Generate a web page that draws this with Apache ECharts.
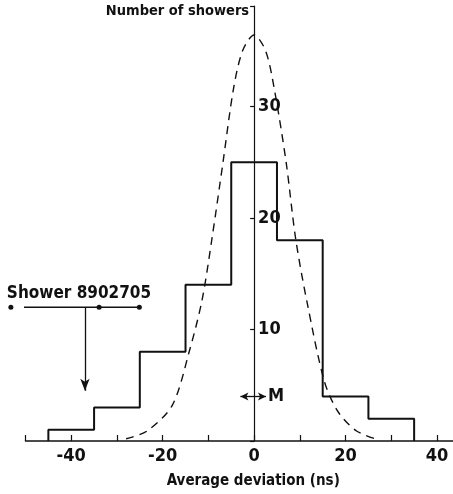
<!DOCTYPE html>
<html>
<head>
<meta charset="utf-8">
<script src="https://cdn.jsdelivr.net/npm/echarts@6/dist/echarts.min.js"></script>
<style>
  html, body { margin: 0; padding: 0; background: #fff; }
  #main { width: 453px; height: 494px; }
</style>
</head>
<body>
<div id="main"></div>
<script>
// histogram, 10 ns bins
var binEdges = [-45, -35, -25, -15, -5, 5, 15, 25, 35];
var binCounts = [1, 3, 8, 14, 25, 18, 4, 2];

// dashed curve
var curveX = [-28, -23.4, -17.9, -14.2, -11.4, -9.2, -6.8, -4.5, -2.5, 0, 2.5, 4.4, 7.0, 9.1, 11.6, 15.4, 18.4, 22.4, 27.2];
var curveY = [0.2, 0.9, 3.2, 8, 12.6, 18.2, 25, 31.6, 35.0, 36.4, 35.0, 31.6, 25, 18.1, 12.4, 5.3, 2.6, 0.9, 0.1];

var xLabels = [-40, -20, 0, 20, 40];
var yLabels = [10, 20, 30];

// shower 8902705 marker and the M arrow
var showerDots = [[-53.2, 12], [-33.9, 12], [-25.1, 12]];
var showerArrow = [[-37, 12], [-37, 4.5]];
var mArrow = [[-3, 4], [2.6, 4]];

var font = '"DejaVu Sans Condensed", sans-serif';

var gridLeft = 25.5, gridWidth = 453 - gridLeft;
var xMin = -50, xMax = 43.5;
// y axis sits at x = 0, shift it there from the grid's left edge
var yAxisShift = -(0 - xMin) / (xMax - xMin) * gridWidth;

var histPts = [[binEdges[0], 0]];
for (var i = 0; i < binCounts.length; i++) {
  histPts.push([binEdges[i], binCounts[i]]);
  histPts.push([binEdges[i + 1], binCounts[i]]);
}
histPts.push([binEdges[binEdges.length - 1], 0]);

var curvePts = curveX.map(function (x, i) { return [x, curveY[i]] });

var chart = echarts.init(document.getElementById('main'));
chart.setOption({
  animation: false,
  backgroundColor: '#fff',
  grid: { left: gridLeft, right: 0, top: 6, bottom: 47.5 },
  xAxis: {
    type: 'value',
    min: xMin,
    max: xMax,
    interval: 10,
    name: 'Average deviation (ns)',
    nameLocation: 'middle',
    nameGap: 33,
    nameTextStyle: { fontFamily: font, fontWeight: 'bold', fontSize: 15, color: '#111', padding: [0, 0, 0, 28] },
    splitLine: { show: false },
    axisLine: { onZero: false, lineStyle: { color: '#111', width: 1.5 } },
    axisTick: { inside: true, length: 6, lineStyle: { color: '#111', width: 1.2 } },
    axisLabel: {
      margin: 6,
      fontFamily: font, fontWeight: 'bold', fontSize: 18, color: '#111',
      showMinLabel: true, showMaxLabel: false,
      formatter: function (v) { return xLabels.indexOf(v) >= 0 ? String(v) : '' }
    }
  },
  yAxis: {
    type: 'value',
    min: 0,
    max: 39,
    interval: 10,
    offset: yAxisShift,
    name: 'Number of showers',
    nameLocation: 'end',
    nameGap: -5,
    nameTextStyle: { fontFamily: font, fontWeight: 'bold', fontSize: 14.5, color: '#111', align: 'right', verticalAlign: 'middle', padding: [0, 5, 0, 0] },
    splitLine: { show: false },
    axisLine: { onZero: false, lineStyle: { color: '#111', width: 1.2 } },
    axisTick: { length: 4, lineStyle: { color: '#111', width: 1.2 } },
    axisLabel: {
      inside: true,
      margin: 4,
      fontFamily: font, fontWeight: 'bold', fontSize: 18, color: '#111',
      formatter: function (v) { return yLabels.indexOf(v) >= 0 ? String(v) : '' }
    }
  },
  series: [
    {
      name: 'histogram',
      type: 'line',
      data: histPts,
      symbol: 'none',
      lineStyle: { color: '#111', width: 2 },
      z: 3
    },
    {
      name: 'curve',
      type: 'line',
      data: curvePts,
      smooth: 0.3,
      symbol: 'none',
      lineStyle: { color: '#111', width: 1.4, type: [8, 6] },
      z: 2
    },
    {
      name: 'shower',
      type: 'line',
      data: showerDots,
      clip: false,
      symbol: 'circle',
      symbolSize: 5,
      itemStyle: { color: '#111' },
      lineStyle: { color: '#111', width: 1.5 },
      label: {
        show: true,
        position: 'top',
        align: 'left',
        offset: [-4, 0],
        distance: 3,
        fontFamily: font, fontWeight: 'bold', fontSize: 17, color: '#111',
        formatter: function (p) { return p.dataIndex === 0 ? 'Shower 8902705' : '' }
      },
      markLine: {
        silent: true,
        symbol: ['none', 'arrow'],
        symbolSize: [7, 12],
        lineStyle: { color: '#111', width: 1.3, type: 'solid' },
        label: { show: false },
        data: [[{ coord: showerArrow[0] }, { coord: showerArrow[1] }]]
      },
      z: 4
    },
    {
      name: 'M',
      type: 'line',
      data: [],
      markLine: {
        silent: true,
        symbol: ['arrow', 'arrow'],
        symbolSize: [6, 8],
        lineStyle: { color: '#111', width: 1.3, type: 'solid' },
        label: {
          show: true,
          position: 'end',
          distance: 2,
          formatter: 'M',
          fontFamily: font, fontWeight: 'bold', fontSize: 18, color: '#111'
        },
        data: [[{ coord: mArrow[0] }, { coord: mArrow[1] }]]
      }
    }
  ]
});
</script>
</body>
</html>
